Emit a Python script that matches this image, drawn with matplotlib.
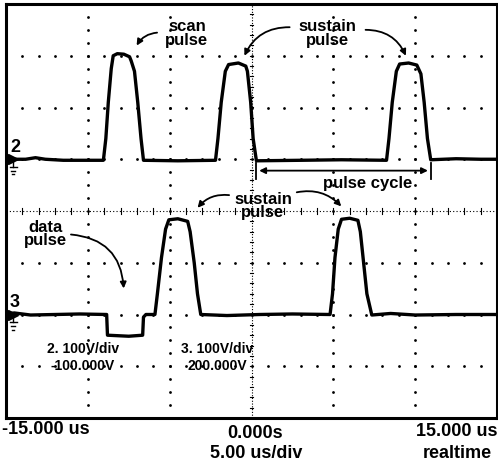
import matplotlib.pyplot as plt
import numpy as np

plt.rcParams['font.family'] = ['Liberation Sans', 'DejaVu Sans']

# channel 2 trace (time in us, volts)
ch2_t = [-15.0, -13.8, -13.2, -12.6, -11.5, -9.05, -8.9, -8.75, -8.57, -8.45, -8.2, -7.8, -7.45,
         -7.35, -7.15, -6.95, -6.75, -6.6, -4.5, -2.2, -2.05, -1.85, -1.6, -1.4, -0.8, -0.35, -0.25,
         -0.05, 0.1, 0.3, 3.0, 5.5, 8.25, 8.4, 8.6, 8.85, 9.05, 9.6, 10.1, 10.35, 10.55, 10.75,
         10.95, 12.5, 14.0, 15.0]
ch2_v = [0, 0, 3, 0, -2, -2, 40, 110, 175, 200, 204, 203, 198,
         190, 170, 110, 40, -2, -3, -2, 40, 110, 170, 183, 186, 180, 170,
         110, 40, -3, -2, -1, -2, 40, 110, 170, 184, 186, 182, 165, 110, 40,
         -1, 1, 0, 0]

# channel 3 trace
ch3_t = [-15.0, -14.5, -13.5, -12.0, -10.5, -8.85, -8.8, -7.5, -6.65, -6.6, -6.45, -5.9, -5.75,
         -5.5, -5.25, -5.05, -4.5, -3.9, -3.75, -3.5, -3.3, -3.1, -1.5, 0.5, 2.5, 4.8, 4.95,
         5.1, 5.3, 5.5, 6.0, 6.5, 6.65, 6.85, 7.05, 7.35, 8.5, 10.0, 12.5, 15.0]
ch3_v = [0, 3, -1, 0, 1, 0, -40, -42, -40, -5, 0, 0, 40,
         110, 165, 183, 185, 180, 160, 100, 40, 0, -2, 0, 1, 0, 40,
         110, 165, 184, 186, 182, 160, 100, 40, -1, 2, -1, 0, 0]

ch2_scale, ch2_offset = 100, -100
ch3_scale, ch3_offset = 100, 200

fig = plt.figure(figsize=(4.98, 4.71), dpi=100)
ax = fig.add_axes([6 / 498, (471 - 418) / 471, 491 / 498, 414 / 471])
ax.set_xlim(-15, 15)
ax.set_ylim(-4, 4)
ax.set_xticks([])
ax.set_yticks([])
for s in ax.spines.values():
    s.set_linewidth(2.2)
    s.set_color('black')

# dotted graticule
dot = dict(color='black', s=4, linewidths=0)
for gx in [-10, -5, 5, 10]:
    yy = np.arange(-4, 4.01, 0.25)
    ax.scatter(np.full_like(yy, gx), yy, **dot)
for gy in [-3, -2, -1, 1, 2, 3]:
    xx = np.arange(-15, 15.01, 1.0)
    ax.scatter(xx, np.full_like(xx, gy), **dot)
# center axes with fine ticks
ax.plot([0, 0], [-4, 4], color='black', lw=0.8, ls=(0, (1, 1.5)))
ax.plot([-15, 15], [0, 0], color='black', lw=0.8, ls=(0, (1, 2)))
for tx in np.arange(-15, 15.01, 1.0):
    ax.plot([tx, tx], [-0.05, 0.05], color='black', lw=0.8)
for ty in np.arange(-4, 4.01, 0.2):
    ax.plot([-0.08, 0.08], [ty, ty], color='black', lw=0.8)

# traces
y2 = (np.array(ch2_v) - ch2_offset) / ch2_scale
y3 = (np.array(ch3_v) - ch3_offset) / ch3_scale
ax.plot(ch2_t, y2, color='black', lw=2.4, solid_joinstyle='round')
ax.plot(ch3_t, y3, color='black', lw=2.4, solid_joinstyle='round')

# ground markers
for lab, lev in [('2', 1.0), ('3', -2.0)]:
    ax.text(-14.75, lev + 0.06, lab, fontsize=13, fontweight='bold', ha='left', va='bottom')
    ax.plot([-14.6], [lev], marker='>', color='black', markersize=7)
    ax.plot([-14.55, -14.55], [lev, lev - 0.15], color='black', lw=1)
    for i, w in enumerate([0.2, 0.13, 0.06]):
        ax.plot([-14.55 - w, -14.55 + w], [lev - 0.15 - i * 0.07] * 2, color='black', lw=1)

tk = dict(fontsize=12, fontweight='bold', ha='center', va='center', linespacing=0.85)
arr = dict(arrowstyle='-|>', color='black', lw=1.3, mutation_scale=9)

ax.text(-3.95, 3.43, 'scan\npulse', **tk)
ax.annotate('', xy=(-7.1, 3.15), xytext=(-5.6, 3.45),
            arrowprops=dict(connectionstyle='arc3,rad=0.3', **arr))

ax.text(4.65, 3.43, 'sustain\npulse', **tk)
ax.annotate('', xy=(-0.5, 2.95), xytext=(2.5, 3.55),
            arrowprops=dict(connectionstyle='arc3,rad=0.35', **arr))
ax.annotate('', xy=(9.5, 2.95), xytext=(6.8, 3.5),
            arrowprops=dict(connectionstyle='arc3,rad=-0.35', **arr))

# pulse cycle
ax.annotate('', xy=(10.95, 0.78), xytext=(0.3, 0.78),
            arrowprops=dict(arrowstyle='<|-|>', color='black', lw=1.3, mutation_scale=9))
for px in [0.3, 10.95]:
    ax.plot([px, px], [0.62, 0.93], color='black', lw=1.3)
ax.text(7.1, 0.53, 'pulse cycle', **tk)

ax.text(0.7, 0.1, 'sustain\npulse', **tk)
ax.annotate('', xy=(-3.4, 0.02), xytext=(-1.2, 0.3),
            arrowprops=dict(connectionstyle='arc3,rad=0.3', **arr))
ax.annotate('', xy=(5.6, 0.05), xytext=(2.6, 0.35),
            arrowprops=dict(connectionstyle='arc3,rad=-0.3', **arr))

ax.text(-12.6, -0.45, 'data\npulse', **tk)
ax.annotate('', xy=(-7.8, -1.55), xytext=(-11.2, -0.45),
            arrowprops=dict(connectionstyle='arc3,rad=-0.45', **arr))

sk = dict(fontsize=10, fontweight='bold', ha='center', va='center')
ax.text(-10.3, -2.66, '2. 100V/div', **sk)
ax.text(-10.3, -3.0, '-100.000V', **sk)
ax.text(-2.1, -2.66, '3. 100V/div', **sk)
ax.text(-2.1, -3.0, '200.000V', **sk)

bk = dict(fontsize=13, fontweight='bold', va='center')
fig.text(2 / 498, 1 - 430 / 471, '-15.000 us', ha='left', **bk)
fig.text(255 / 498, 1 - 434 / 471, '0.000s', ha='center', **bk)
fig.text(256 / 498, 1 - 453 / 471, '5.00 us/div', ha='center', **bk)
fig.text(497 / 498, 1 - 431 / 471, '15.000 us', ha='right', **bk)
fig.text(492 / 498, 1 - 453 / 471, 'realtime', ha='right', **bk)

fig.savefig('out.png', dpi=100)
